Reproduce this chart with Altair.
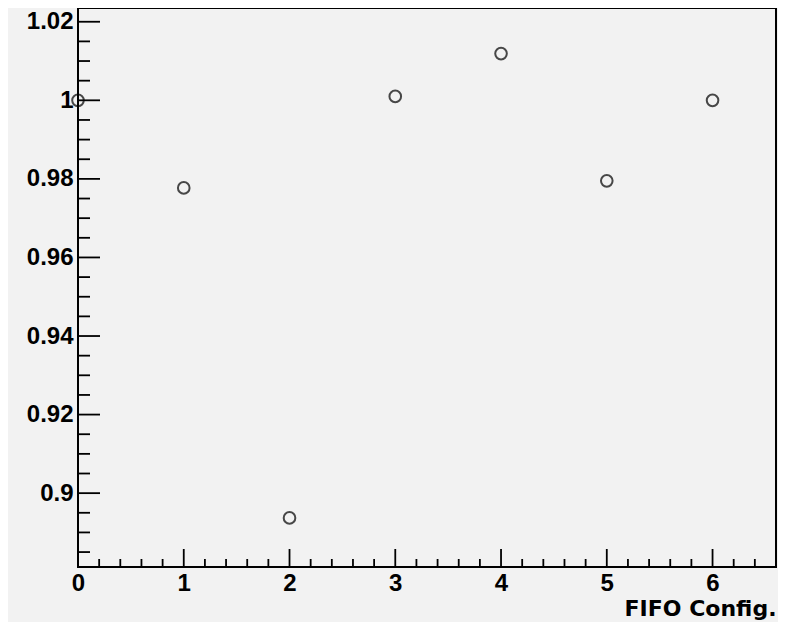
import altair as alt
import pandas as pd

# data
config = [0, 1, 2, 3, 4, 5, 6]
ratio = [1.0, 0.9777, 0.8937, 1.0010, 1.0119, 0.9795, 1.0]

x_major = [0, 1, 2, 3, 4, 5, 6]
y_major = [0.90, 0.92, 0.94, 0.96, 0.98, 1.00, 1.02]
x_domain = [0, 6.6]
y_domain = [0.8812, 1.0235]

W, H = 698, 559
FONT = "Liberation Sans"
FS = 24

x_minor = [round(i * 0.2, 2) for i in range(1, 33) if i % 5 != 0]
y_minor = [round(0.885 + i * 0.005, 3) for i in range(0, 28)]
y_minor = [v for v in y_minor if all(abs(v - m) > 1e-6 for m in y_major)]

pts = pd.DataFrame({"x": config, "y": ratio})
xmaj = pd.DataFrame({"x": x_major})
xmin = pd.DataFrame({"x": x_minor})
ymaj = pd.DataFrame({"y": y_major})
ymin = pd.DataFrame({"y": y_minor})

xscale = alt.Scale(domain=x_domain, nice=False, zero=False)
yscale = alt.Scale(domain=y_domain, nice=False, zero=False)

xaxis = alt.Axis(values=x_major, format="d", domain=False, ticks=False, tickSize=0,
                 grid=False, labelFont=FONT, labelFontSize=FS, labelFontWeight="bold",
                 labelColor="black", labelPadding=4, labelFlush=False, labelOverlap=False,
                 title="FIFO Config.", titleFont="DejaVu Sans", titleFontSize=22,
                 titleFontWeight="bold", titleColor="black", titleAnchor="end",
                 titleAlign="right", titleX=W, titleY=48, titleBaseline="alphabetic")
yaxis = alt.Axis(values=y_major, format=".2~f", domain=False, ticks=False, tickSize=0,
                 grid=False, labelFont=FONT, labelFontSize=FS, labelFontWeight="bold",
                 labelColor="black", labelPadding=5, labelOverlap=False, title=None)

X = alt.X("x:Q", scale=xscale, axis=xaxis)
Y = alt.Y("y:Q", scale=yscale, axis=yaxis)

points = alt.Chart(pts).mark_point(shape="circle", filled=False, size=135,
                                   color="black", strokeWidth=2, clip=False).encode(x=X, y=Y)

ymaj_r = alt.Chart(ymaj).mark_rule(color="black", strokeWidth=1.8).encode(
    y=Y, x=alt.value(0), x2=alt.value(22))
ymin_r = alt.Chart(ymin).mark_rule(color="black", strokeWidth=1.8).encode(
    y=Y, x=alt.value(0), x2=alt.value(12))
xmaj_r = alt.Chart(xmaj).mark_rule(color="black", strokeWidth=1.8).encode(
    x=X, y=alt.value(H), y2=alt.value(H - 18))
xmin_r = alt.Chart(xmin).mark_rule(color="black", strokeWidth=1.8).encode(
    x=X, y=alt.value(H), y2=alt.value(H - 8))

chart = alt.layer(ymaj_r, ymin_r, xmaj_r, xmin_r, points).properties(
    width=W, height=H,
    autosize=alt.AutoSizeParams(type="none"),
    padding={"left": 70, "top": 0, "right": 2, "bottom": 55},
    background="#f2f2f2",
).configure_view(stroke="black", strokeWidth=2)

chart.save("out.html", embed_options={"renderer": "svg", "actions": False})
